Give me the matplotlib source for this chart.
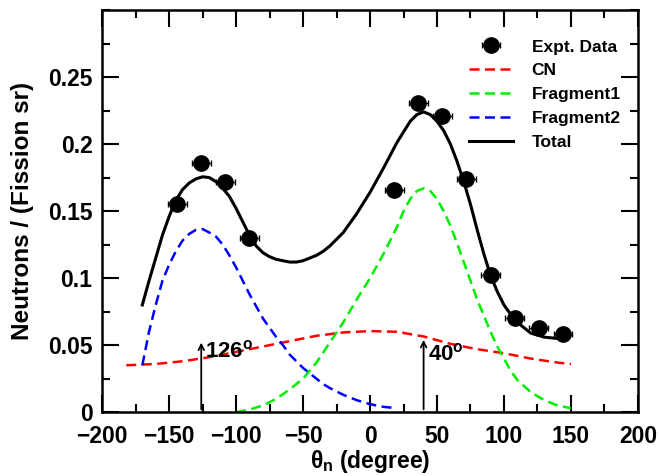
import matplotlib.pyplot as plt
from matplotlib.ticker import MultipleLocator

plt.rcParams['font.family'] = ['Liberation Sans', 'DejaVu Sans']
plt.rcParams['font.weight'] = 'bold'
plt.rcParams['mathtext.fontset'] = 'custom'
plt.rcParams['mathtext.rm'] = 'Liberation Sans:bold'
plt.rcParams['mathtext.it'] = 'Liberation Sans:bold'
plt.rcParams['mathtext.bf'] = 'Liberation Sans:bold'

# measured data
theta_data = [-144, -126, -108, -90, 18, 36, 54, 72, 90, 108, 126, 144]
y_data = [0.155, 0.186, 0.172, 0.130, 0.166, 0.231, 0.221, 0.174, 0.102, 0.070, 0.063, 0.058]
theta_err = [7] * len(theta_data)

# fitted components
cn_x = [-182, -160, -140, -120, -100, -80, -60, -40, -20, 0, 20, 40, 60, 80, 100, 120, 140, 150]
cn_y = [0.035, 0.036, 0.038, 0.041, 0.045, 0.049, 0.053, 0.057, 0.0595, 0.0605, 0.060, 0.0565,
        0.051, 0.047, 0.044, 0.040, 0.037, 0.036]

f1_x = [-100, -90, -80, -70, -60, -50, -40, -30, -20, -10, 0, 5, 10, 15, 20, 25, 30, 35, 40,
        45, 50, 55, 60, 65, 70, 75, 80, 85, 90, 95, 100, 105, 110, 120, 130, 140, 150]
f1_y = [0.0, 0.002, 0.005, 0.010, 0.017, 0.025, 0.037, 0.052, 0.067, 0.084, 0.100, 0.109,
        0.118, 0.128, 0.138, 0.150, 0.159, 0.165, 0.167, 0.165, 0.159, 0.150, 0.139, 0.126,
        0.112, 0.098, 0.084, 0.072, 0.060, 0.049, 0.040, 0.031, 0.024, 0.015, 0.009, 0.005,
        0.003]

f2_x = [-170, -165, -160, -155, -150, -145, -140, -135, -130, -125, -120, -115, -110, -105,
        -100, -95, -90, -85, -80, -75, -70, -65, -60, -55, -50, -45, -40, -35, -30, -20,
        -10, 0, 10, 20]
f2_y = [0.035, 0.060, 0.080, 0.098, 0.110, 0.120, 0.128, 0.133, 0.136, 0.1366, 0.134, 0.131,
        0.125, 0.117, 0.108, 0.098, 0.088, 0.079, 0.070, 0.063, 0.056, 0.050, 0.043, 0.038,
        0.033, 0.029, 0.025, 0.021, 0.018, 0.013, 0.009, 0.006, 0.004, 0.003]

tot_x = [-170, -165, -160, -155, -150, -145, -140, -135, -130, -125, -120, -115, -110, -105,
         -100, -95, -90, -85, -80, -75, -70, -65, -60, -55, -50, -45, -40, -35, -30, -20, -10,
         0, 10, 20, 30, 35, 40, 45, 50, 55, 60, 65, 70, 75, 80, 85, 90, 95, 100, 105, 110,
         115, 120, 130, 140, 145]
tot_y = [0.080, 0.098, 0.115, 0.132, 0.146, 0.158, 0.166, 0.171, 0.174, 0.1756, 0.175, 0.172,
         0.167, 0.161, 0.152, 0.142, 0.132, 0.124, 0.119, 0.116, 0.114, 0.113, 0.112, 0.112,
         0.113, 0.115, 0.117, 0.120, 0.124, 0.134, 0.148, 0.164, 0.182, 0.201, 0.217, 0.222,
         0.224, 0.222, 0.217, 0.210, 0.200, 0.187, 0.172, 0.155, 0.136, 0.118, 0.102, 0.090,
         0.080, 0.073, 0.067, 0.063, 0.059, 0.056, 0.055, 0.055]

peaks = [-126, 40]
peak_tops = [0.054, 0.056]
peak_labels = ['126$^o$', '40$^o$']
label_pos = [(-123, 0.041), (43, 0.039)]

fig = plt.figure(figsize=(6.59, 4.76), dpi=100)
ax = fig.add_axes([0.155, 0.134, 0.813, 0.845])

dash = (0, (4, 2.2))
h_data = ax.errorbar(theta_data, y_data, xerr=theta_err, fmt='o', color='black', ms=11,
                     elinewidth=1, capsize=2, zorder=5)
h_cn, = ax.plot(cn_x, cn_y, color='red', ls=dash, lw=1.8)
h_f1, = ax.plot(f1_x, f1_y, color='#00ee00', ls=dash, lw=1.8)
h_f2, = ax.plot(f2_x, f2_y, color='blue', ls=dash, lw=1.8)
h_tot, = ax.plot(tot_x, tot_y, color='black', lw=2.2)

for px, top, lab, (tx, ty) in zip(peaks, peak_tops, peak_labels, label_pos):
    ax.annotate('', xy=(px, top), xytext=(px, 0),
                arrowprops=dict(arrowstyle='->', color='black', lw=1.3))
    ax.text(tx, ty, lab, fontsize=16, fontweight='bold', va='baseline', ha='left')

ax.set_xlim(-200, 200)
ax.set_ylim(0, 0.3)
ax.set_xticks(range(-200, 201, 50))
ax.set_yticks([0, 0.05, 0.1, 0.15, 0.2, 0.25])
ax.set_yticklabels(['0', '0.05', '0.1', '0.15', '0.2', '0.25'])
ax.xaxis.set_minor_locator(MultipleLocator(25))
ax.yaxis.set_minor_locator(MultipleLocator(0.025))
ax.tick_params(which='both', direction='in', top=True, right=True, width=1.5,
               labelsize=16.5)
ax.tick_params(axis='y', which='both', pad=7)
ax.tick_params(axis='x', which='both', pad=9)
ax.tick_params(which='major', length=12)
ax.tick_params(which='minor', length=6)
for s in ax.spines.values():
    s.set_linewidth(1.8)

ax.set_xlabel(r'$\theta_n$ (degree)', fontsize=16.5, fontweight='bold', labelpad=0)
ax.set_ylabel('Neutrons / (Fission sr)', fontsize=17.5, fontweight='bold')
ax.yaxis.set_label_coords(-0.128, 0.5)

ax.legend([h_data, h_cn, h_f1, h_f2, h_tot],
          ['Expt. Data', 'CN', 'Fragment1', 'Fragment2', 'Total'],
          loc='upper left', bbox_to_anchor=(0.685, 0.927), frameon=False, fontsize=12.5,
          handlelength=2.5, handletextpad=1.1, labelspacing=0.5, borderpad=0,
          borderaxespad=0)

fig.savefig('out.png', dpi=100)
